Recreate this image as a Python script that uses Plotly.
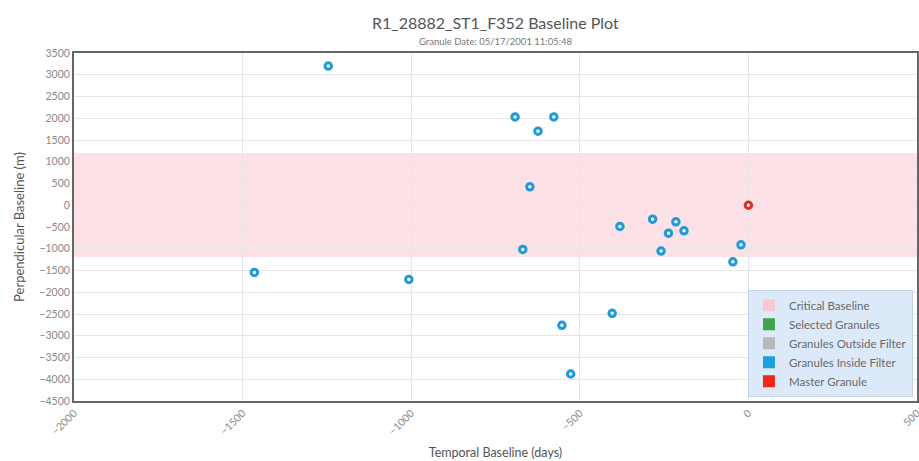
import plotly.graph_objects as go

# Data
temporal_days = [-1246, -1465, -1007, -692, -577, -624, -648, -669, -553, -527,
                 -404, -381, -284, -215, -237, -191, -259, -22, -46]
perp_baseline = [3200, -1545, -1705, 2030, 2030, 1702, 423, -1015, -2761, -3879,
                 -2485, -487, -319, -381, -641, -588, -1054, -909, -1300]
master_days = [0]
master_perp = [0]
critical_low, critical_high = -1190, 1200

legend_names = ["Critical Baseline", "Selected Granules", "Granules Outside Filter",
                "Granules Inside Filter", "Master Granule"]
legend_colors = ["#f9c9d0", "#3fa34d", "#b8b8b8", "#1e9fe0", "#f2261b"]

BLUE = "#1f9ad6"
RED = "#d9302a"

fig = go.Figure()

# critical baseline band
fig.add_shape(type="rect", xref="paper", yref="y", x0=0, x1=1,
              y0=critical_low, y1=critical_high,
              fillcolor="rgba(248,190,200,0.45)", line_width=0, layer="below")

# data traces (no legend)
fig.add_trace(go.Scatter(x=temporal_days, y=perp_baseline, mode="markers",
                         marker=dict(symbol="circle", size=6.5, color="white",
                                     line=dict(color=BLUE, width=3)),
                         showlegend=False, hoverinfo="x+y"))
fig.add_trace(go.Scatter(x=master_days, y=master_perp, mode="markers",
                         marker=dict(symbol="circle", size=6.5, color="#fbe6e6",
                                     line=dict(color=RED, width=3)),
                         showlegend=False, hoverinfo="x+y"))

# legend entries
for name, col in zip(legend_names, legend_colors):
    fig.add_trace(go.Scatter(x=[None], y=[None], mode="markers", name=name,
                             marker=dict(symbol="square", size=12, color=col)))

font_family = "Lato, Open Sans, sans-serif"

fig.update_layout(
    width=919, height=461,
    margin=dict(l=74, r=2, t=53, b=60, autoexpand=False),
    paper_bgcolor="white", plot_bgcolor="white",
    font=dict(family=font_family, color="#666666", size=10),
    showlegend=True,
    legend=dict(x=0.7995, y=0.012, xanchor="left", yanchor="bottom",
                bgcolor="#dce9f9", bordercolor="#c4d4e8", borderwidth=1,
                font=dict(size=11.5, color="#6a6a6a"),
                itemsizing="constant", tracegroupgap=0),
    annotations=[
        dict(text="R1_28882_ST1_F352 Baseline Plot", xref="paper", yref="paper",
             x=0.5, y=1, yshift=31, xanchor="center", yanchor="middle",
             showarrow=False, font=dict(size=16, color="#555555")),
        dict(text="Granule Date: 05/17/2001 11:05:48", xref="paper", yref="paper",
             x=0.5, y=1, yshift=12, xanchor="center", yanchor="middle",
             showarrow=False, font=dict(size=9.5, color="#777777")),
    ],
)

fig.update_xaxes(range=[-2000, 500.01], dtick=500, tick0=-2000,
                 showgrid=True, gridcolor="#ebe4e6", gridwidth=1,
                 zeroline=False, showline=True, linecolor="#666666", linewidth=2,
                 mirror=True, tickangle=-45, ticks="", ticklabeloverflow="allow",
                 automargin=False,
                 tickfont=dict(size=10.5, color="#888888"),
                 title=dict(text="Temporal Baseline (days)", standoff=12,
                            font=dict(size=12.5, color="#555555")))
fig.update_yaxes(range=[-4500, 3500], dtick=500, tick0=-4500,
                 showgrid=True, gridcolor="#e6e6e6", gridwidth=1,
                 zeroline=False, showline=True, linecolor="#666666", linewidth=2,
                 mirror=True, ticks="", automargin=False,
                 tickfont=dict(size=10.5, color="#888888"),
                 title=dict(text="Perpendicular Baseline (m)", standoff=12,
                            font=dict(size=13, color="#555555")))

fig.write_html("out.html")
